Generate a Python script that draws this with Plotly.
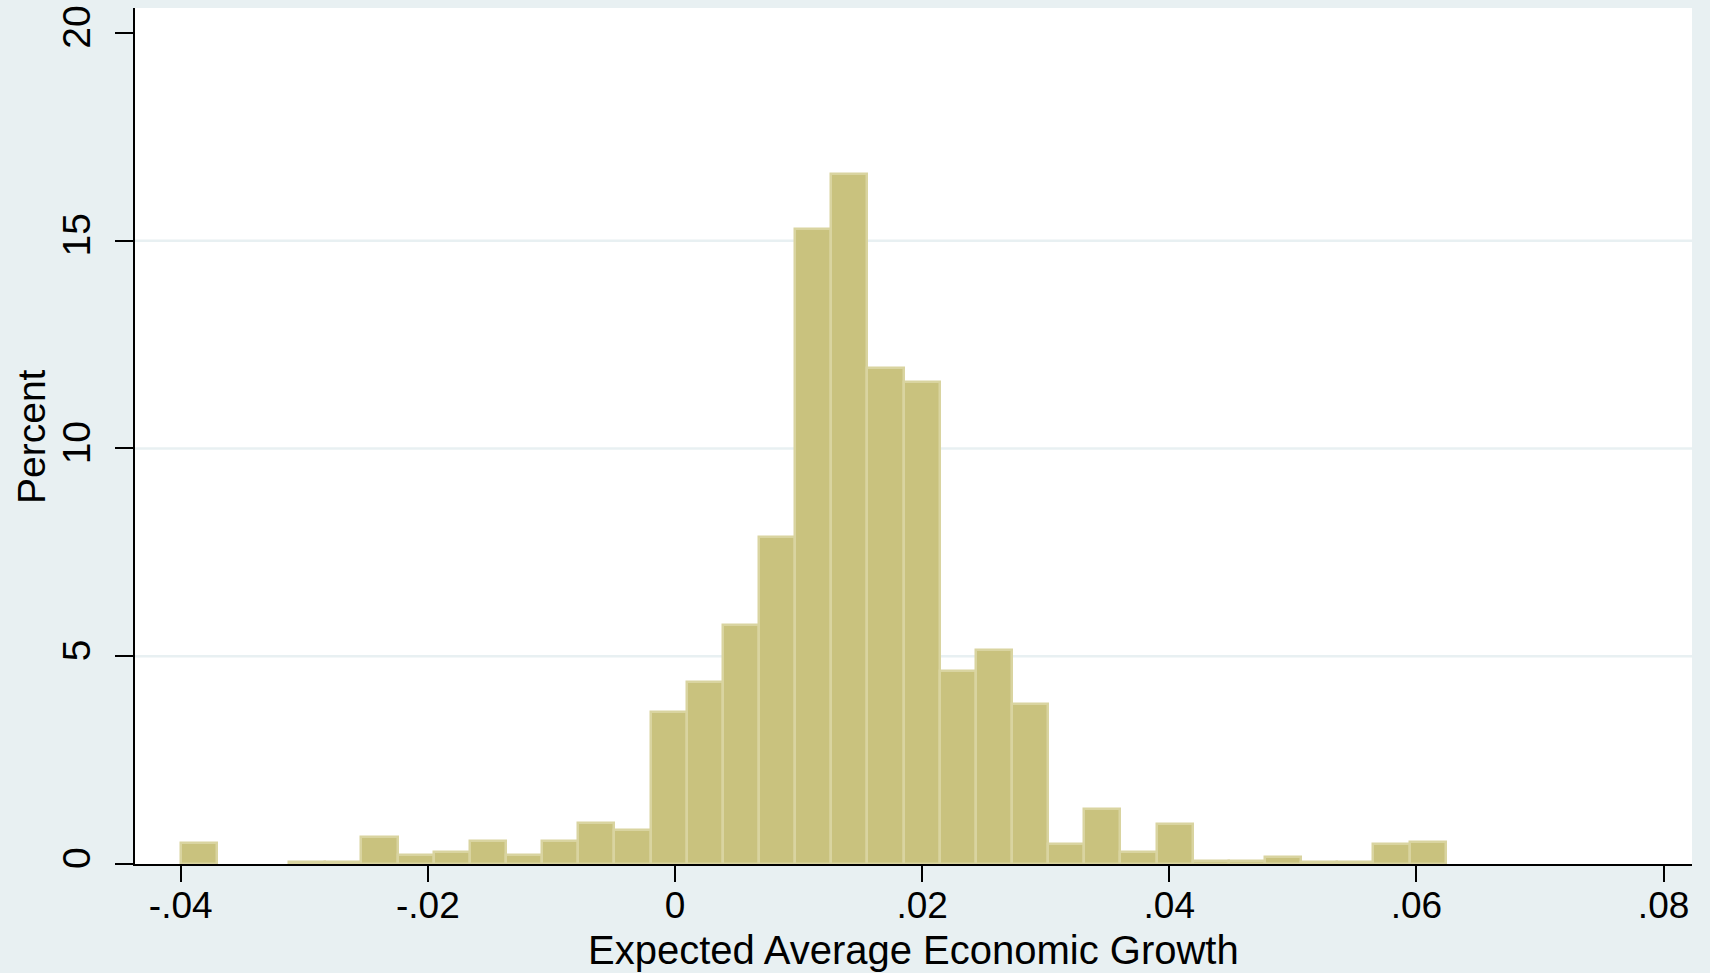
import plotly.graph_objects as go

# Histogram of expected average economic growth (percent of observations per bin)
bin_start = -0.0400
bin_width = 0.002925
percent = [
    0.50, 0.00, 0.00, 0.04, 0.06, 0.64, 0.21, 0.28, 0.56, 0.21,
    0.56, 0.98, 0.82, 3.66, 4.37, 5.75, 7.87, 15.28, 16.60, 11.93,
    11.61, 4.65, 5.16, 3.85, 0.47, 1.33, 0.28, 0.96, 0.08, 0.08,
    0.17, 0.04, 0.04, 0.49, 0.54,
]
x_ticks = [-0.04, -0.02, 0, 0.02, 0.04, 0.06, 0.08]
x_tick_text = ["-.04", "-.02", "0", ".02", ".04", ".06", ".08"]
y_ticks = [0, 5, 10, 15, 20]
grid_levels = [5, 10, 15]

centers = [bin_start + bin_width * (i + 0.5) for i in range(len(percent))]
# empty bins are left undrawn so no outline appears on the baseline
heights = [p if p > 0 else None for p in percent]

BG = "#e8f0f2"
FONT = "Liberation Sans, Arial, sans-serif"

fig = go.Figure()
fig.add_trace(go.Bar(
    x=centers,
    y=heights,
    width=[bin_width] * len(percent),
    marker=dict(color="#c9c27e", line=dict(color="#d9d4a0", width=2.5)),
    hoverinfo="x+y",
))

for g in grid_levels:
    fig.add_shape(type="line", xref="paper", yref="y", x0=0, x1=1, y0=g, y1=g,
                  line=dict(color=BG, width=2.5), layer="below")

fig.update_layout(
    width=1710, height=973,
    margin=dict(l=135, r=18, t=5, b=109),
    paper_bgcolor=BG, plot_bgcolor="white",
    bargap=0, showlegend=False,
    font=dict(family=FONT, color="black", size=38),
)
fig.update_xaxes(
    range=[-0.0437, 0.0823], tickvals=x_ticks, ticktext=x_tick_text,
    showgrid=False, zeroline=False, showline=True, linecolor="black", linewidth=1.5,
    ticks="outside", ticklen=16, tickwidth=1.5, tickcolor="black",
    tickfont=dict(size=37), ticklabelstandoff=-8,
)
fig.update_yaxes(
    range=[0, 20.6], tickvals=y_ticks, tickangle=-90,
    showgrid=False, zeroline=False, showline=True, linecolor="black", linewidth=1.5,
    ticks="outside", ticklen=18, tickwidth=1.5, tickcolor="black",
    tickfont=dict(size=39), ticklabelstandoff=10,
)

fig.add_annotation(text="Expected Average Economic Growth", xref="paper", yref="paper",
                   x=0.5, y=-0.101, xanchor="center", yanchor="middle",
                   showarrow=False, font=dict(size=40))
fig.add_annotation(text="Percent", xref="paper", yref="paper",
                   x=-0.0668, y=0.5, xanchor="center", yanchor="middle",
                   textangle=-90, showarrow=False, font=dict(size=39))

fig.write_html("out.html")
